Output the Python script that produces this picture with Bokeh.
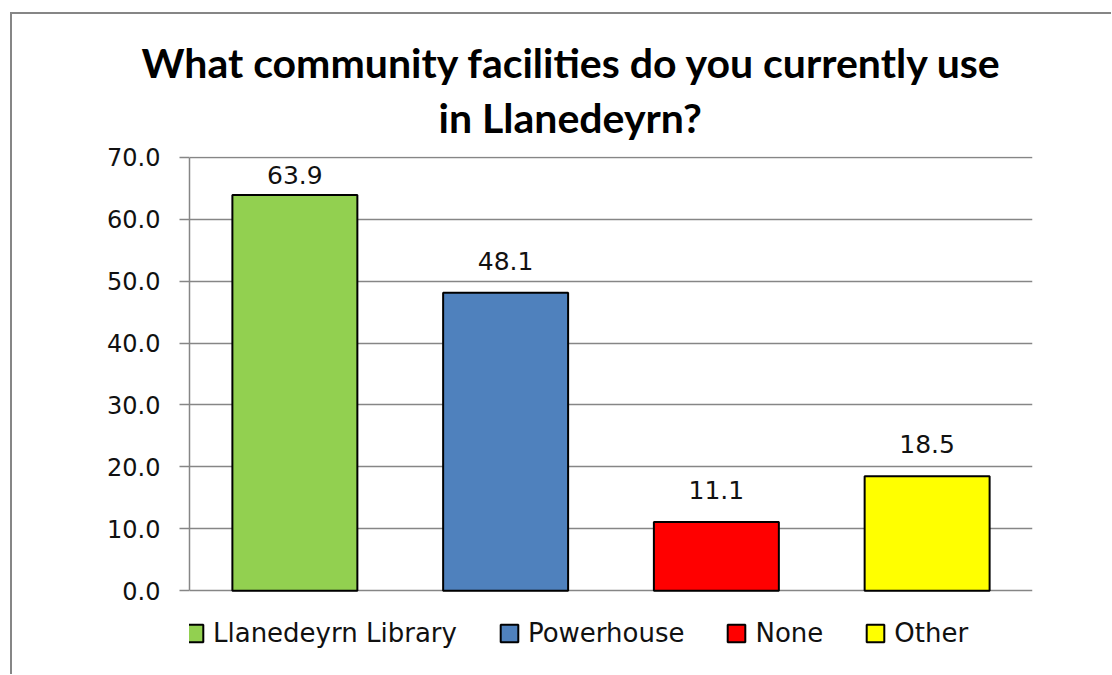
from bokeh.plotting import figure
from bokeh.models import (ColumnDataSource, FactorRange, Range1d, FixedTicker,
                          NumeralTickFormatter, Legend, LegendItem, Title, Column)
from bokeh.core.properties import value
from bokeh.embed import file_html
from bokeh.resources import INLINE
import numpy as np

# ---- data ----
categories = ["Llanedeyrn Library", "Powerhouse", "None", "Other"]
percentages = [63.9, 48.1, 11.1, 18.5]
bar_colors = ["#92D050", "#4F81BD", "#FF0000", "#FFFF00"]
y_ticks = [0, 10, 20, 30, 40, 50, 60, 70]
title_lines = ["What community facilities do you currently use", "in Llanedeyrn?"]

vals = np.array(percentages)
label_offsets = np.where(vals > 60, -20, -32)  # data label kept inside plot area

src = ColumnDataSource(dict(
    cat=categories, val=percentages, color=bar_colors,
    lbl=[f"{v:.1f}" for v in percentages], yoff=list(label_offsets),
))

# the frame reaches below 0 so that the legend row sits inside it
p = figure(
    x_range=FactorRange(*categories, range_padding=0),
    y_range=Range1d(-10.43, 70.1),
    frame_width=843, frame_height=499,
    min_border_left=177, min_border_right=79,
    min_border_top=142, min_border_bottom=19,
    x_axis_location=None,
    output_backend="svg", toolbar_location=None,
    background_fill_color="white", border_fill_color="white",
)
p.outline_line_color = None

bars = p.vbar(x="cat", top="val", width=0.593, bottom=0, source=src,
              fill_color="color", line_color="black", line_width=2)

p.text(x="cat", y="val", text="lbl", source=src, y_offset="yoff",
       text_align="center", text_baseline="alphabetic",
       text_font=value("DejaVu Sans"), text_font_size="25px", text_color="#111111")

# axes
p.xgrid.grid_line_color = None
p.ygrid.grid_line_color = "#868686"
p.ygrid.grid_line_width = 1.5
p.ygrid.ticker = FixedTicker(ticks=y_ticks)
p.yaxis.ticker = FixedTicker(ticks=y_ticks)
p.yaxis.bounds = (y_ticks[0], y_ticks[-1])
p.yaxis.formatter = NumeralTickFormatter(format="0.0")
p.yaxis.axis_line_color = "#868686"
p.yaxis.axis_line_width = 1.5
p.yaxis.major_tick_line_color = "#868686"
p.yaxis.major_tick_line_width = 1.5
p.yaxis.major_tick_out = 10
p.yaxis.major_tick_in = 0
p.yaxis.minor_tick_line_color = None
p.yaxis.major_label_standoff = 19
p.yaxis.major_label_text_font = "DejaVu Sans"
p.yaxis.major_label_text_font_size = "24px"
p.yaxis.major_label_text_color = "#111111"

# legend row
items = [LegendItem(label=c, renderers=[bars], index=i) for i, c in enumerate(categories)]
legend = Legend(items=items, orientation="horizontal", location=(-6, 7),
                glyph_width=22, glyph_height=22, label_standoff=8, spacing=41,
                padding=0, margin=0, border_line_color=None, background_fill_alpha=0,
                label_text_font="DejaVu Sans", label_text_font_size="26px",
                label_text_color="#111111", label_height=30)
p.add_layout(legend, "center")

# title (two lines, second line added first so it sits nearest the plot)
p.add_layout(Title(text=title_lines[1], align="left", offset=249, standoff=30,
                   text_font="Lato", text_font_style="bold", text_font_size="41px",
                   text_color="black"), "above")
p.add_layout(Title(text=title_lines[0], align="left", offset=-48, standoff=-22,
                   text_font="Lato", text_font_style="bold", text_font_size="41px",
                   text_color="black"), "above")

page = Column(p, styles={"margin-left": "10px", "margin-top": "12px",
                         "border-style": "solid none none solid",
                         "border-width": "2px 0px 0px 2px",
                         "border-color": "#868686"})

open("out.html", "w").write(file_html(page, INLINE))
